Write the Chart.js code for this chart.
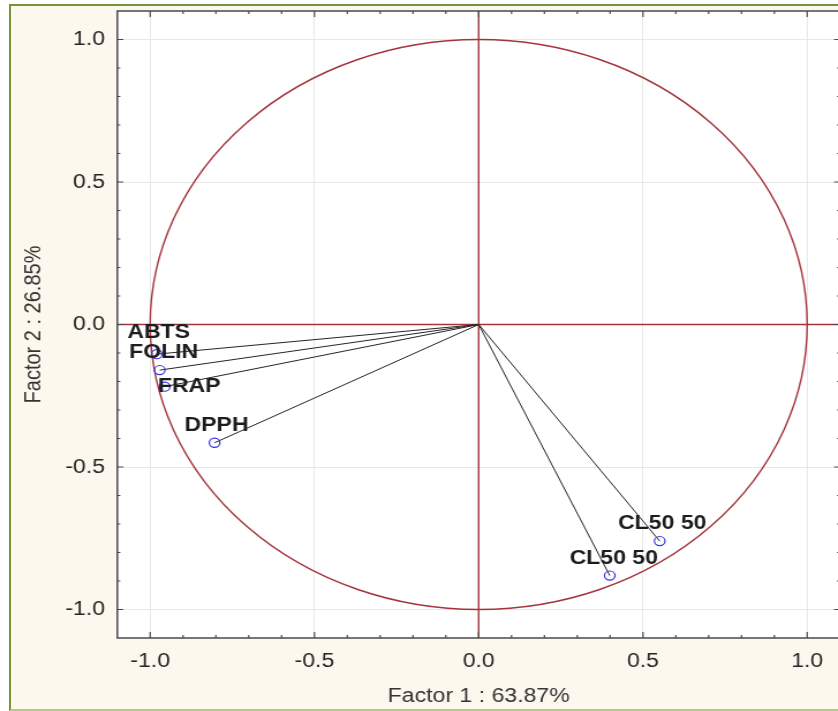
<!DOCTYPE html>
<html><head><meta charset="utf-8">
<script src="https://cdn.jsdelivr.net/npm/chart.js@4.4.1/dist/chart.umd.min.js"></script>
<style>
html,body{margin:0;padding:0;width:838px;height:711px;overflow:hidden;background:#fff;}
#frame{position:absolute;left:9px;top:4px;width:840px;height:707px;box-sizing:border-box;border-left:2px solid #77933c;border-top:2px solid #77933c;border-bottom:2px solid #b3c98c;background:#fdf8ee;}
#wrap{position:absolute;left:0;top:0;width:740px;height:711px;transform:scaleX(1.152632);transform-origin:0 0;}
</style></head><body>
<div id="frame"></div>
<div id="wrap"><canvas id="c" width="740" height="711"></canvas></div>
<script>
// ---- data ----
const variables = ['ABTS', 'FOLIN', 'FRAP', 'DPPH', 'CL50 50', 'CL50 50'];
const factor1 = [-0.980, -0.971, -0.956, -0.804, 0.551, 0.399];
const factor2 = [-0.104, -0.160, -0.218, -0.415, -0.760, -0.881];
const axisTicks = [-1.0, -0.5, 0.0, 0.5, 1.0];
const xTitle = 'Factor 1 : 63.87%';
const yTitle = 'Factor 2 : 26.85%';

const FAM = '"Liberation Sans", Arial, sans-serif';
Chart.defaults.font.family = FAM;
const SX = 1.152632;

const datasets = variables.map((name, i) => ({
  label: name,
  data: [{x: 0, y: 0}, {x: factor1[i], y: factor2[i]}],
  showLine: true,
  borderColor: '#262626',
  borderWidth: 1,
  pointRadius: [0, 4.6],
  pointBorderColor: '#3535e6',
  pointBackgroundColor: 'rgba(0,0,0,0)',
  pointBorderWidth: 1.2
}));

const pcaPlugin = {
  id: 'pca',
  beforeDraw(chart) {
    const {ctx, chartArea: a} = chart;
    ctx.save();
    ctx.fillStyle = '#ffffff';
    ctx.fillRect(a.left, a.top, a.right - a.left, a.bottom - a.top);
    ctx.restore();
  },
  beforeDatasetsDraw(chart) {
    const {ctx, chartArea: a, scales: {x, y}} = chart;
    const cx = x.getPixelForValue(0), cy = y.getPixelForValue(0);
    const rx = x.getPixelForValue(1) - cx, ry = cy - y.getPixelForValue(1);
    ctx.save();
    ctx.strokeStyle = '#a3343c';
    ctx.lineWidth = 1.4;
    ctx.beginPath();
    ctx.ellipse(cx, cy, rx, ry, 0, 0, Math.PI * 2);
    ctx.stroke();
    ctx.beginPath();
    ctx.moveTo(a.left, cy); ctx.lineTo(a.right, cy);
    ctx.moveTo(cx, a.top); ctx.lineTo(cx, a.bottom);
    ctx.stroke();
    ctx.restore();
  },
  afterDatasetsDraw(chart, args, opts) {
    const {ctx} = chart;
    ctx.save();
    ctx.font = 'bold 20px ' + FAM;
    ctx.fillStyle = '#1c1c1c';
    ctx.textAlign = 'center';
    ctx.textBaseline = 'middle';
    chart.data.datasets.forEach((ds, i) => {
      const el = chart.getDatasetMeta(i).data[1];
      const off = opts.offsets[i];
      ctx.fillText(ds.label, el.x + off[0], el.y + off[1]);
    });
    ctx.restore();
  },
  afterDraw(chart) {
    const {ctx, chartArea: a, scales: {x, y}} = chart;
    ctx.save();
    ctx.strokeStyle = '#4a4a4a';
    ctx.lineWidth = 1.5;
    ctx.strokeRect(a.left, a.top, a.right - a.left, a.bottom - a.top);
    ctx.lineWidth = 1.2;
    ctx.beginPath();
    for (let k = -10; k <= 10; k++) {
      const v = k / 10;
      const major = k % 5 === 0;
      const lv = major ? 6 : 3;
      const lh = lv / SX;
      const px = x.getPixelForValue(v);
      ctx.moveTo(px, a.bottom); ctx.lineTo(px, a.bottom - lv);
      ctx.moveTo(px, a.top); ctx.lineTo(px, a.top + lv);
      const py = y.getPixelForValue(v);
      ctx.moveTo(a.left, py); ctx.lineTo(a.left + lh, py);
      ctx.moveTo(a.right, py); ctx.lineTo(a.right - lh, py);
    }
    ctx.stroke();
    ctx.restore();
  }
};

const tickFont = {family: FAM, size: 20};

new Chart(document.getElementById('c'), {
  type: 'scatter',
  data: {datasets},
  plugins: [pcaPlugin],
  options: {
    responsive: false,
    animation: false,
    devicePixelRatio: 1,
    layout: {padding: {top: 11, right: 11.2, left: 0, bottom: 0}},
    plugins: {
      legend: {display: false},
      tooltip: {enabled: false},
      pca: {offsets: [[1.7, -22], [3.5, -17.5], [21.3, 0], [1.7, -17], [2.2, -18], [3.5, -17]]}
    },
    scales: {
      x: {
        type: 'linear', position: 'bottom', min: -1.1, max: 1.1,
        afterBuildTicks: s => { s.ticks = axisTicks.map(v => ({value: v})); },
        afterFit: s => { s.height = 73; s.paddingLeft = 0; s.paddingRight = 0; },
        grid: {color: '#e8e8e8', drawTicks: false, lineWidth: 1},
        border: {display: false},
        ticks: {padding: 11, font: tickFont, color: '#262626', callback: v => Number(v).toFixed(1)},
        title: {display: true, text: xTitle, font: tickFont, color: '#333333', padding: {top: 0, bottom: 3}}
      },
      y: {
        type: 'linear', position: 'left', min: -1.1, max: 1.1,
        afterBuildTicks: s => { s.ticks = axisTicks.map(v => ({value: v})); },
        afterFit: s => { s.width = 101.8; s.paddingTop = 0; s.paddingBottom = 0; },
        grid: {color: '#e8e8e8', drawTicks: false, lineWidth: 1},
        border: {display: false},
        ticks: {padding: 10.7, font: tickFont, color: '#262626', callback: v => Number(v).toFixed(1)},
        title: {display: true, text: yTitle, font: tickFont, color: '#333333', padding: {top: 17.5, bottom: 0}}
      }
    }
  }
});
</script>
</body></html>
